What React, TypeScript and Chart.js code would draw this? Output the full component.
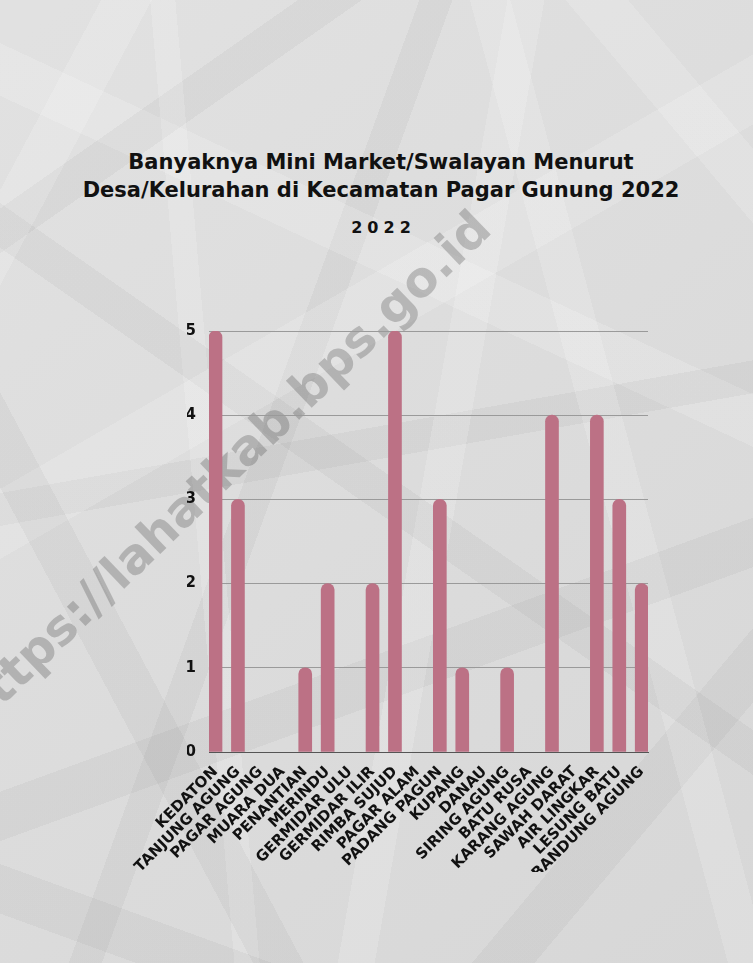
import React, { useEffect, useRef } from "react";
import { Chart, registerables } from "chart.js";

Chart.register(...registerables);

const titleLines = [
  "Banyaknya Mini Market/Swalayan Menurut",
  "Desa/Kelurahan di Kecamatan Pagar Gunung 2022",
];
const subtitle = "2022";
const watermark = "https://lahatkab.bps.go.id";

const categories = [
  "KEDATON",
  "TANJUNG AGUNG",
  "PAGAR AGUNG",
  "MUARA DUA",
  "PENANTIAN",
  "MERINDU",
  "GERMIDAR ULU",
  "GERMIDAR ILIR",
  "RIMBA SUJUD",
  "PAGAR ALAM",
  "PADANG PAGUN",
  "KUPANG",
  "DANAU",
  "SIRING AGUNG",
  "BATU RUSA",
  "KARANG AGUNG",
  "SAWAH DARAT",
  "AIR LINGKAR",
  "LESUNG BATU",
  "BANDUNG AGUNG",
];

const values = [5, 3, 0, 0, 1, 2, 0, 2, 5, 0, 3, 1, 0, 1, 0, 4, 0, 4, 3, 2];

const yTicks = [0, 1, 2, 3, 4, 5];

const band = (deg: number, a: number, b: number, col: string) =>
  `linear-gradient(${deg}deg, transparent ${a}%, ${col} ${a}%, ${col} ${b}%, transparent ${b}%)`;
const L = "rgba(255,255,255,0.16)";
const D = "rgba(0,0,0,0.035)";

const paperBg = [
  band(118, 8, 12, L),
  band(62, 20, 24, D),
  band(150, 35, 40, L),
  band(35, 48, 51, D),
  band(100, 55, 59, L),
  band(160, 64, 68, D),
  band(75, 72, 76, L),
  band(130, 82, 86, D),
  band(20, 4, 8, D),
  band(85, 28, 31, L),
  band(145, 14, 17, D),
  band(50, 88, 92, L),
  band(170, 45, 48, D),
  band(25, 66, 70, L),
  band(110, 38, 41, D),
  "linear-gradient(140deg, rgba(255,255,255,0.10), rgba(0,0,0,0.03))",
].join(",");

export default function App() {
  const canvasRef = useRef<HTMLCanvasElement | null>(null);

  useEffect(() => {
    if (!canvasRef.current) return;
    const chart = new Chart(canvasRef.current, {
      type: "bar",
      data: {
        datasets: [
          {
            data: values.map((v, i) => ({ x: i, y: v })),
            backgroundColor: (ctx: any) =>
              ctx.raw && ctx.raw.y === 0 ? "rgba(0,0,0,0)" : "rgb(188,113,133)",
            borderRadius: 7,
            borderSkipped: "start",
            barThickness: 13,
          },
        ],
      },
      options: {
        animation: false,
        responsive: false,
        maintainAspectRatio: false,
        layout: { padding: { left: 187, right: 105, top: 331, bottom: 91 } },
        plugins: {
          legend: { display: false },
          tooltip: { enabled: false },
          title: { display: false },
        },
        scales: {
          x: {
            type: "linear",
            offset: false,
            min: -0.29,
            max: 19.28,
            grid: { display: false, offset: false, drawTicks: false },
            border: { display: true, color: "#555555", width: 1 },
            afterBuildTicks: (scale: any) => {
              scale.ticks = categories.map((_, i) => ({ value: i }));
            },
            afterFit: (scale: any) => {
              scale.height = 120;
            },
            ticks: {
              autoSkip: false,
              minRotation: 45,
              maxRotation: 45,
              padding: 11,
              color: "#111111",
              font: { family: "'DejaVu Sans'", weight: "bold", size: 15 },
              callback: (v: any) => categories[v as number] ?? "",
            },
          },
          y: {
            min: 0,
            max: 5,
            afterBuildTicks: (scale: any) => {
              scale.ticks = yTicks.map((v) => ({ value: v }));
            },
            afterFit: (scale: any) => {
              scale.width = 22;
            },
            grid: { color: "#9a9a9a", lineWidth: 1, drawTicks: false },
            border: { display: false },
            ticks: {
              padding: 13,
              color: "#111111",
              font: { family: "'DejaVu Sans'", weight: "bold", size: 15 },
            },
          },
        },
      },
    });
    return () => chart.destroy();
  }, []);

  return (
    <div
      style={{
        position: "absolute",
        left: 0,
        top: 0,
        width: 753,
        height: 963,
        overflow: "hidden",
        backgroundColor: "#dedede",
        backgroundImage: paperBg,
      }}
    >
      <div
        style={{
          position: "absolute",
          left: 224 - 450,
          top: 470 - 30,
          width: 900,
          height: 60,
          lineHeight: "60px",
          textAlign: "center",
          transform: "rotate(-44deg)",
          fontFamily: "'DejaVu Sans', sans-serif",
          fontWeight: "bold",
          fontSize: 49,
          color: "rgba(80,80,80,0.3)",
          whiteSpace: "nowrap",
        }}
      >
        {watermark}
      </div>
      <div
        style={{
          position: "absolute",
          left: 0,
          top: 148,
          width: 762,
          textAlign: "center",
          fontFamily: "'DejaVu Sans', sans-serif",
          fontWeight: "bold",
          fontSize: 21,
          lineHeight: "28px",
          color: "#111111",
        }}
      >
        {titleLines.map((t) => (
          <div key={t}>{t}</div>
        ))}
      </div>
      <div
        style={{
          position: "absolute",
          left: 0,
          top: 217,
          width: 762,
          paddingLeft: 5,
          boxSizing: "border-box",
          textAlign: "center",
          fontFamily: "'DejaVu Sans', sans-serif",
          fontWeight: "bold",
          fontSize: 16,
          lineHeight: "22px",
          letterSpacing: "5px",
          color: "#111111",
        }}
      >
        {subtitle}
      </div>
      <canvas
        ref={canvasRef}
        width={753}
        height={963}
        style={{ position: "absolute", left: 0, top: 0, width: 753, height: 963 }}
      />
    </div>
  );
}
